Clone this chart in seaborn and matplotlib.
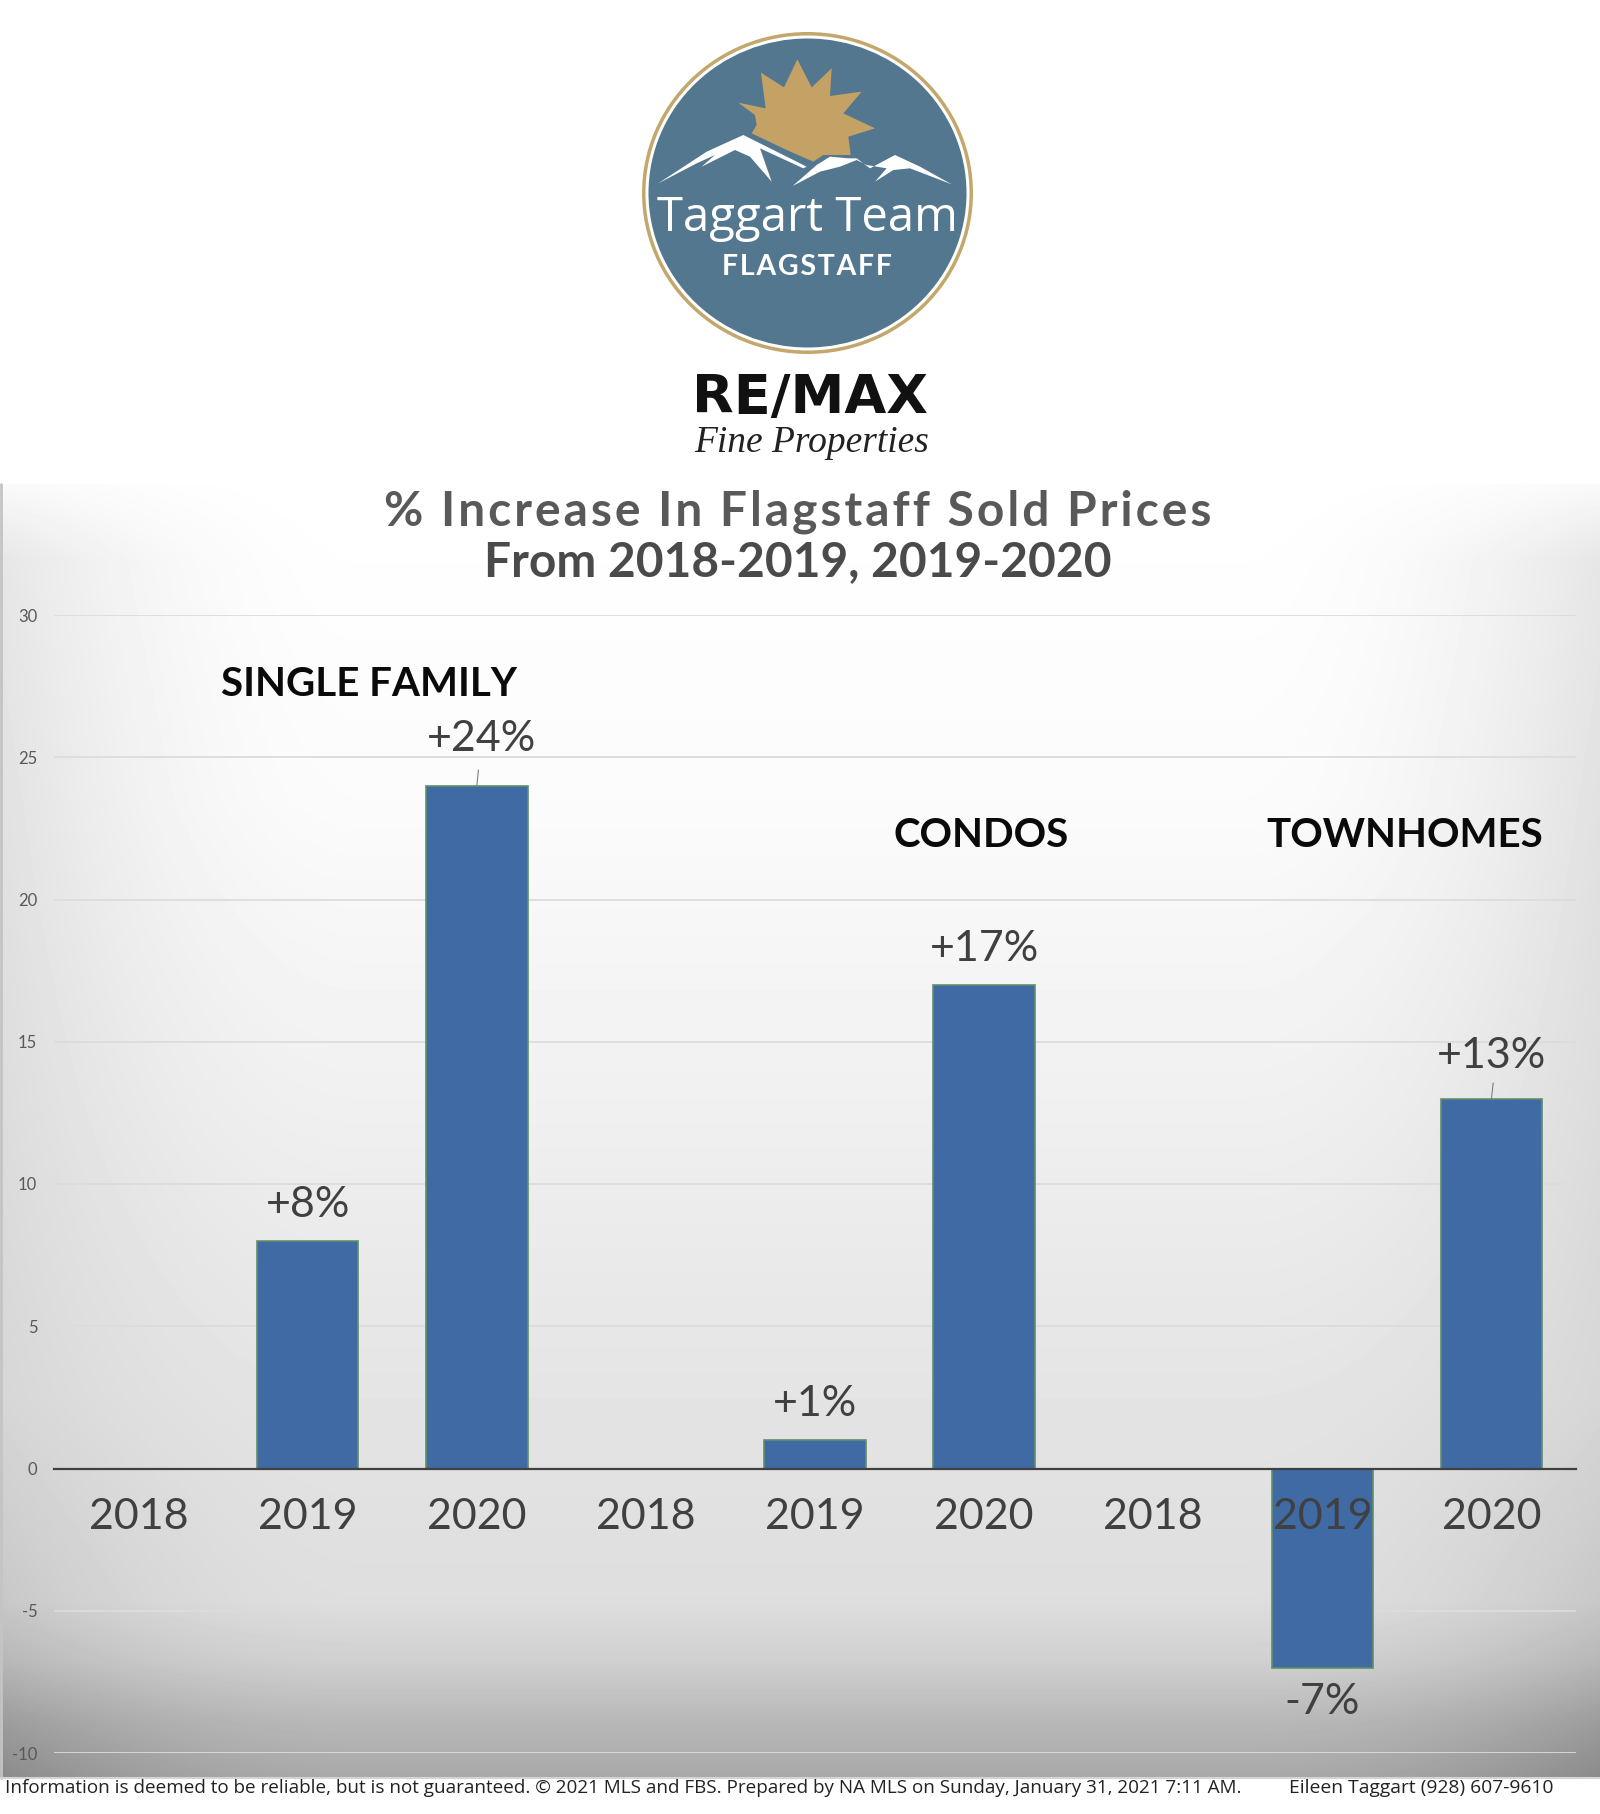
import numpy as np
import pandas as pd
import matplotlib
matplotlib.use("Agg")
import matplotlib.pyplot as plt
from matplotlib.patches import Ellipse, Polygon
import seaborn as sns

# ---- data ----
groups = ["SINGLE FAMILY", "CONDOS", "TOWNHOMES"]
years = ["2018", "2019", "2020"] * 3
values = [0, 8, 24, 0, 1, 17, 0, -7, 13]
value_labels = ["", "+8%", "+24%", "", "+1%", "+17%", "", "-7%", "+13%"]
y_ticks = [-10, -5, 0, 5, 10, 15, 20, 25, 30]

title_1 = "% Increase In Flagstaff Sold Prices"
title_2 = "From 2018-2019, 2019-2020"
footer_l = "Information is deemed to be reliable, but is not guaranteed. © 2021 MLS and FBS. Prepared by NA MLS on Sunday, January 31, 2021 7:11 AM."
footer_r = "Eileen Taggart (928) 607-9610"

# ---- layout ----
W, H = 1600, 1814
sns.set_theme(style="white")
plt.rcParams["font.family"] = ["Lato", "DejaVu Sans"]
fig = plt.figure(figsize=(W / 100, H / 100), dpi=100, facecolor="white")

bg = fig.add_axes([0, 0, 1, 1], zorder=0)
bg.set_xlim(0, W); bg.set_ylim(H, 0); bg.axis("off")

# gradient panel behind the chart
top, bot = 484, 1778
yy = np.arange(top, bot)
xx = np.arange(W)
base = np.interp(yy, [484, 800, 1100, 1400, 1600, 1660, 1720, 1778],
                 [255, 251, 240, 228, 222, 208, 184, 168])
xd = np.abs(xx - W / 2) / (W / 2)
edge = np.clip((xd - 0.55) / 0.45, 0, 1) ** 2
amt = np.interp(yy, [484, 560, 800, 1400, 1778], [6, 24, 26, 14, 30])
img = base[:, None] - amt[:, None] * edge[None, :]
bg.imshow(img, cmap="gray", vmin=0, vmax=255, extent=(0, W, bot, top), aspect="auto", zorder=0)
bg.set_xlim(0, W); bg.set_ylim(H, 0)
bg.plot([1, 1], [top, bot], color="#c4c4c4", lw=2, zorder=1)
bg.plot([0, W], [bot, bot], color="#d4d4d4", lw=1.5, zorder=1)

# logo
lx = lambda p: [(600 + a / 3, b / 3) for a, b in p]
bg.add_patch(Ellipse((807.5, 193), 331, 322, fc="#c3a76c", ec="none", zorder=2))
bg.add_patch(Ellipse((807.5, 193), 324, 315, fc="white", ec="none", zorder=2))
bg.add_patch(Ellipse((807.5, 193), 318, 309, fc="#52778f", ec="none", zorder=2))
sun = [(415,308),(497,325),(483,218),(552,262),(592,178),(635,262),(695,205),(690,288),(785,275),
       (730,340),(825,385),(745,410),(752,465),(670,465),(640,485),(560,450),(455,400),(470,375),(465,345)]
bg.add_patch(Polygon(lx(sun), fc="#c4a265", ec="none", zorder=3))
m1 = [(175,550),(320,455),(430,405),(480,430),(620,500),(610,505),(480,445),(515,545),(450,470),
      (405,450),(305,500),(345,465),(290,490)]
m2 = [(578,558),(650,495),(690,470),(745,475),(770,475),(810,505),(885,465),(960,500),(1055,553),
      (930,505),(880,510),(825,545),(860,505),(800,495),(770,480),(720,500),(660,515)]
bg.add_patch(Polygon(lx(m1), fc="white", ec="none", zorder=4))
bg.add_patch(Polygon(lx(m2), fc="white", ec="none", zorder=4))
bg.text(807, 218, "Taggart Team", color="white", fontsize=34, ha="center", va="center",
        family=["Open Sans", "DejaVu Sans"], zorder=5)
bg.text(807, 267, "\u200a".join("FLAGSTAFF"), color="white", fontsize=20.5, fontweight="bold",
        ha="center", va="center", family=["Lato", "DejaVu Sans"], zorder=5)
bg.text(810, 398, "RE/MAX", color="#111111", fontsize=39, fontweight="bold", ha="center", va="center",
        family=["DejaVu Sans"], zorder=5)
bg.text(812, 443, "Fine Properties", color="#222222", fontsize=27, style="italic", ha="center", va="center",
        family=["Liberation Serif", "DejaVu Serif"], zorder=5)

# titles and footer
bg.text(798, 512, "\u200a".join(title_1), color="#595959", fontsize=34.5, fontweight="bold",
        ha="center", va="center", zorder=5)
bg.text(798, 562, title_2, color="#4a4a4a", fontsize=34.5, fontweight="bold", ha="center", va="center", zorder=5)
bg.text(5, 1788, footer_l, color="#222222", fontsize=13.55, ha="left", va="center", zorder=5,
        family=["Open Sans", "DejaVu Sans"])
bg.text(1289, 1788, footer_r, color="#222222", fontsize=13.9, ha="left", va="center", zorder=5,
        family=["Open Sans", "DejaVu Sans"])

# chart
ax_left, ax_right, ax_top, ax_bot = 54, 1576, 615, 1753
ax = fig.add_axes([ax_left / W, 1 - ax_bot / H, (ax_right - ax_left) / W, (ax_bot - ax_top) / H], zorder=1)
ax.patch.set_alpha(0)
df = pd.DataFrame({"slot": range(len(values)), "value": values})
sns.barplot(data=df, x="slot", y="value", color="#3f6aa3", saturation=1, width=0.6,
            edgecolor="#5f8f6a", linewidth=1.2, ax=ax)
# empty slots carry no bar outline
for p, v in zip(ax.patches, values):
    if v == 0:
        p.set_visible(False)
for s in ["top", "left", "right"]:
    ax.spines[s].set_visible(False)
ax.spines["bottom"].set_position(("data", 0))
ax.spines["bottom"].set_color("#404040")
ax.spines["bottom"].set_linewidth(1.6)
ax.set_axisbelow(False)
ax.set_ylim(-10, 30)
ax.set_xlim(-0.5, len(values) - 0.5)
ax.hlines(y_ticks, -0.5, len(values) - 0.5, color="#dcdcdc", lw=1.3, zorder=0.5)
ax.set_xlabel(""); ax.set_ylabel("")
ax.set_xticks(range(len(values)))
ax.set_xticklabels(years, fontsize=31, color="#404040")
ax.set_yticks(y_ticks)
ax.set_yticklabels([str(t) for t in y_ticks], fontsize=12, color="#595959")
ax.tick_params(axis="x", length=0, pad=21)
ax.tick_params(axis="y", length=0, pad=12)

label_offset = {2: 1.65, 8: 1.5}
label_shift = {2: 0.03}
for i, (v, t) in enumerate(zip(values, value_labels)):
    if not t:
        continue
    off = label_offset.get(i, 1.25) if v > 0 else -1.2
    ax.text(i + label_shift.get(i, 0), v + off, t, fontsize=31, color="#404040", ha="center", va="center", zorder=5)
    if i in label_offset:
        ax.plot([i, i + 0.01], [v, v + 0.55], color="#7f7f7f", lw=0.8, zorder=4)

group_pos = [(1.36, 27.55), (4.985, 22.25), (7.485, 22.25)]
for g, (gx, gy) in zip(groups, group_pos):
    ax.text(gx, gy, g, fontsize=29, fontweight="bold", color="#0a0a0a", ha="center", va="center", zorder=5)

fig.savefig("out.png", dpi=100, facecolor="white")
